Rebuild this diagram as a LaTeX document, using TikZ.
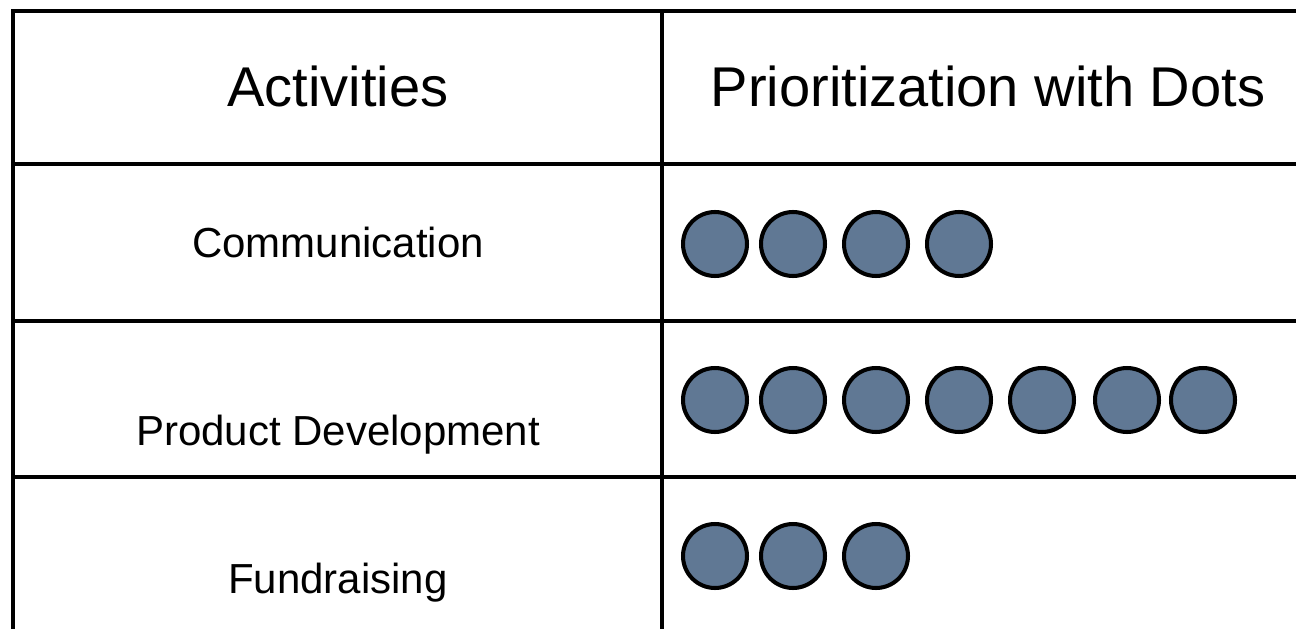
\documentclass[tikz,border=0pt]{standalone}
\usepackage{fontspec}
\setmainfont{Liberation Sans}
\usetikzlibrary{positioning}
\definecolor{dotblue}{RGB}{96,120,148}

\begin{document}
\begin{tikzpicture}[x=0.02cm, y=-0.02cm,
	grid line/.style={line width=2.3pt},
	header/.style={anchor=base, inner sep=0pt, font=\fontsize{31.9}{36}\selectfont},
	activity/.style={anchor=base, inner sep=0pt, font=\fontsize{23.9}{28}\selectfont},
	prio dot/.style={draw, circle, line width=2.3pt, fill=dotblue, inner sep=0pt, minimum size=1.28cm}]
	\useasboundingbox (0,0) rectangle (1296,629);
	
	% table
	\foreach \y in {11,164,321,477}
		\draw[grid line] (11,\y) -- (1296,\y);
	\draw[grid line] (13,9) -- (13,629);
	\draw[grid line] (662,9) -- (662,629);
	
	% header row
	\node[header] (act)  at (338,106) {Activities};
	\node[header] (prio) at (988,106) {Prioritization with Dots};
	
	% activities
	\node[activity] (comm) at (338,257) {Communication};
	\node[activity] (prod) at (338,445) {Product Development};
	\node[activity] (fund) at (338,593) {Fundraising};
	
	% dots
	\foreach \x [count=\i] in {715,793,876,959}
		\node[prio dot] (comm-\i) at (\x,244) {};
	\foreach \x [count=\i] in {715,793,876,959,1042,1127,1203}
		\node[prio dot] (prod-\i) at (\x,400) {};
	\foreach \x [count=\i] in {715,793,876}
		\node[prio dot] (fund-\i) at (\x,556) {};
\end{tikzpicture}
\end{document}
